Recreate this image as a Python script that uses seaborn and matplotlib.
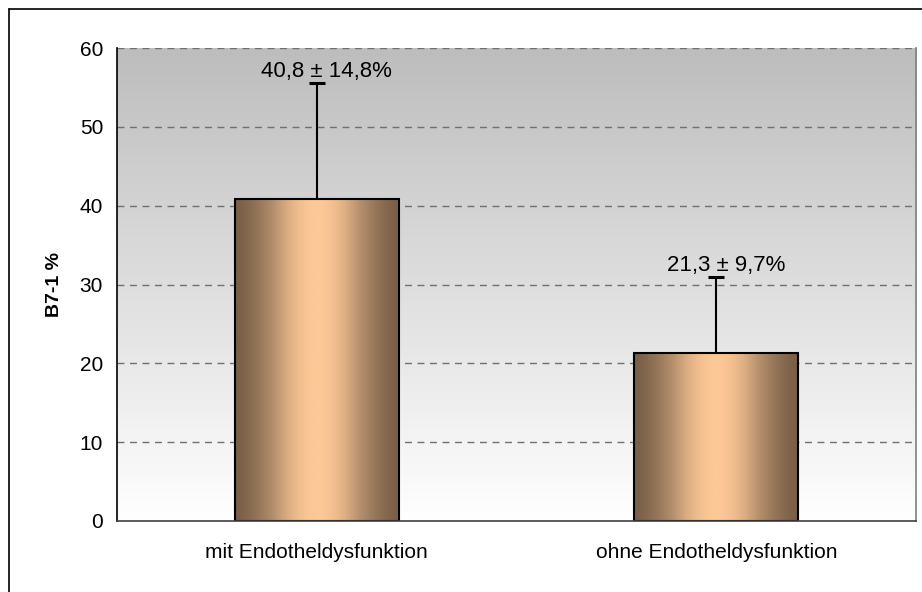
import numpy as np
import pandas as pd
import matplotlib
matplotlib.use("Agg")
import matplotlib.pyplot as plt
import seaborn as sns
from matplotlib.colors import LinearSegmentedColormap
from matplotlib.lines import Line2D

categories = ["mit Endotheldysfunktion", "ohne Endotheldysfunktion"]
means = [40.8, 21.3]
sds = [14.8, 9.7]
value_labels = ["40,8 ± 14,8%", "21,3 ± 9,7%"]
y_ticks = [0, 10, 20, 30, 40, 50, 60]
y_label = "B7-1 %"

sns.set_style("white")
plt.rcParams["font.family"] = ["Liberation Sans", "DejaVu Sans"]

df = pd.DataFrame({"Gruppe": categories, "Wert": means})

fig = plt.figure(figsize=(9.22, 5.92), dpi=100)
ax = fig.add_axes([117/922, 1-521/592, (916-117)/922, (521-48)/592])

sns.barplot(data=df, x="Gruppe", y="Wert", ax=ax, width=0.41,
            facecolor="none", edgecolor="black", linewidth=1.5, errorbar=None, zorder=4)

ax.set_xlim(-0.5, 1.5)
ax.set_ylim(0, 60)

# background gradient
bg = np.linspace(0, 1, 256).reshape(-1, 1)
bg_cmap = LinearSegmentedColormap.from_list("bg", ["#ffffff", "#bdbdbd"])
ax.imshow(bg, cmap=bg_cmap, aspect="auto", extent=[-0.5, 1.5, 0, 60],
          origin="lower", zorder=0, interpolation="bicubic")

# bar gradient fills
xs = np.linspace(0, 1, 300)
prof = np.sin(np.pi * xs) ** 1.6
bar_cmap = LinearSegmentedColormap.from_list("bar", ["#7a6048", "#b08c6a", "#fdc896"])
for p in ax.patches:
    x0, y0 = p.get_x(), p.get_y()
    w, h = p.get_width(), p.get_height()
    im = ax.imshow(prof.reshape(1, -1), cmap=bar_cmap, vmin=0, vmax=1, aspect="auto",
                   extent=[x0, x0 + w, y0, y0 + h], zorder=3, interpolation="bilinear")
    im.set_clip_path(p)

# grid lines
for yv in y_ticks[1:]:
    ax.axhline(yv, color="#707070", lw=1.0, ls=(0, (5, 4)), zorder=1)

# error bars (upper only)
xpos = np.arange(len(categories))
eb = ax.errorbar(xpos, means, yerr=[np.zeros(len(sds)), sds], fmt="none",
                 ecolor="black", elinewidth=1.5, capsize=6, capthick=2.2, zorder=5)
caps = eb[1]
if len(caps) >= 2:
    caps[0].set_visible(False)

for i, (m, s, lab) in enumerate(zip(means, sds, value_labels)):
    ax.annotate(lab, (i, m + s), xytext=(7, 4), textcoords="offset points",
                ha="center", va="baseline", fontsize=16, color="black", zorder=6)

ax.set_yticks(y_ticks)
ax.set_yticklabels([str(v) for v in y_ticks], fontsize=15, color="black")
ax.set_xticks(xpos)
ax.set_xticklabels(categories, fontsize=15, color="black")
ax.set_xticks([-0.5, 0.5, 1.5], minor=True)
ax.tick_params(axis="x", which="major", length=0, pad=16)
ax.tick_params(axis="x", which="minor", length=6, width=1, color="#404040", direction="out")
ax.tick_params(axis="y", which="major", length=5, width=1, color="#404040", direction="out", pad=5)
ax.set_xlabel("")
ax.set_ylabel(y_label, fontsize=14, fontweight="bold", labelpad=12, color="black")

ax.spines["top"].set_visible(False)
ax.spines["left"].set_color("black")
ax.spines["left"].set_linewidth(1.2)
ax.spines["bottom"].set_color("#404040")
ax.spines["bottom"].set_linewidth(1.2)
ax.spines["right"].set_color("#808080")
ax.spines["right"].set_linewidth(1.2)
for s in ax.spines.values():
    s.set_zorder(7)

# outer chart frame
fig.add_artist(Line2D([9/922, 1], [1-9/592, 1-9/592], color="black", lw=1.2, transform=fig.transFigure))
fig.add_artist(Line2D([9/922, 9/922], [0, 1-9/592], color="black", lw=1.2, transform=fig.transFigure))

fig.savefig("out.png", dpi=100)
